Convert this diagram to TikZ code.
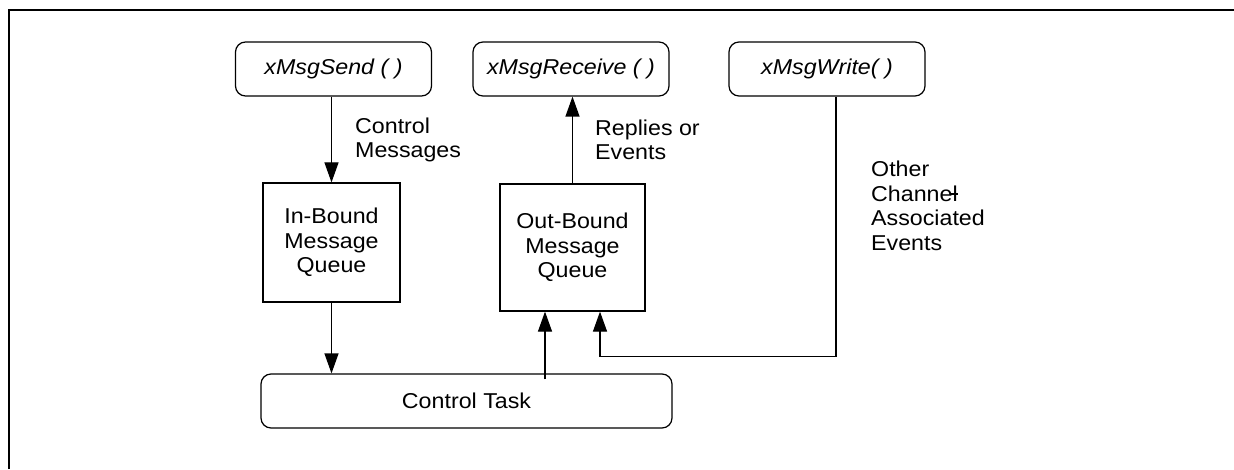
\documentclass[tikz,border=0pt]{standalone}
\usepackage{fontspec}
\setmainfont{Liberation Sans}[FakeStretch=1.08]
\usetikzlibrary{arrows.meta}
% small tick drawn across the final letter of "Channel"
\newcommand{\chtick}{\rlap{\kern-0.08em\rule[0.3em]{0.32em}{0.07em}}}
\begin{document}
\begin{tikzpicture}[x=1pt,y=1pt,
  every node/.style={font=\fontsize{21.5}{24.5}\selectfont, inner sep=0pt},
  func/.style={draw, line width=1.2pt, rounded corners=10pt, minimum width=196pt, minimum height=54pt, font=\fontsize{21.5}{24.5}\selectfont\itshape},
  queue/.style={draw, line width=1.2pt, align=center},
  task/.style={draw, line width=1.2pt, rounded corners=10pt},
  lbl/.style={anchor=west, align=left},
  conn/.style={line width=1.2pt},
  arr/.style={conn, -{Triangle[length=20pt,width=14pt]}},
  frame/.style={line width=2pt}
]
\useasboundingbox (0,0) rectangle (1234,469);
% page frame (top and left edges)
\coordinate (ftl) at (8.5,459);
\coordinate (fbl) at (8.5,0);
\coordinate (ftr) at (1234,459);
\draw[frame] (fbl) -- (ftl) -- (ftr);

% API functions
\node[func] (send)  at (333.5,400) {xMsgSend ( )};
\node[func] (recv)  at (571,400)   {xMsgReceive ( )};
\node[func] (write) at (827,400)   {xMsgWrite( )};

% message queues
\node[queue, minimum width=137pt, minimum height=119pt] (inq)  at (331.5,226.5) {In-Bound\\Message\\Queue};
\node[queue, minimum width=145pt, minimum height=127pt] (outq) at (572.5,221.5) {Out-Bound\\Message\\Queue};

% control task
\node[task, minimum width=411pt, minimum height=54pt] (ctl) at (466.5,68) {Control Task};

% queue entry points on the out-bound queue
\coordinate (oqin1) at ([xshift=-27.5pt]outq.south);
\coordinate (oqin2) at ([xshift=27.5pt]outq.south);

% connectors
\draw[arr] (send.south -| inq.north) -- (inq.north);
\draw[arr] (inq.south) -- (inq.south |- ctl.north);
\draw[arr] (outq.north) -- (outq.north |- recv.south);
\draw[arr] ([yshift=-6pt]ctl.north -| oqin1) -- (oqin1);
\draw[arr] ([xshift=9pt]write.south) |- ([yshift=-45pt]oqin2) -- (oqin2);

% connector labels
\node[lbl] (lctl) at (355,329) {Control\\Messages};
\node[lbl] (lrep) at (595,329) {Replies or\\Events};
\node[lbl] (loth) at (871,263) {Other\\Channe\chtick l\\Associated\\Events};
\end{tikzpicture}
\end{document}
